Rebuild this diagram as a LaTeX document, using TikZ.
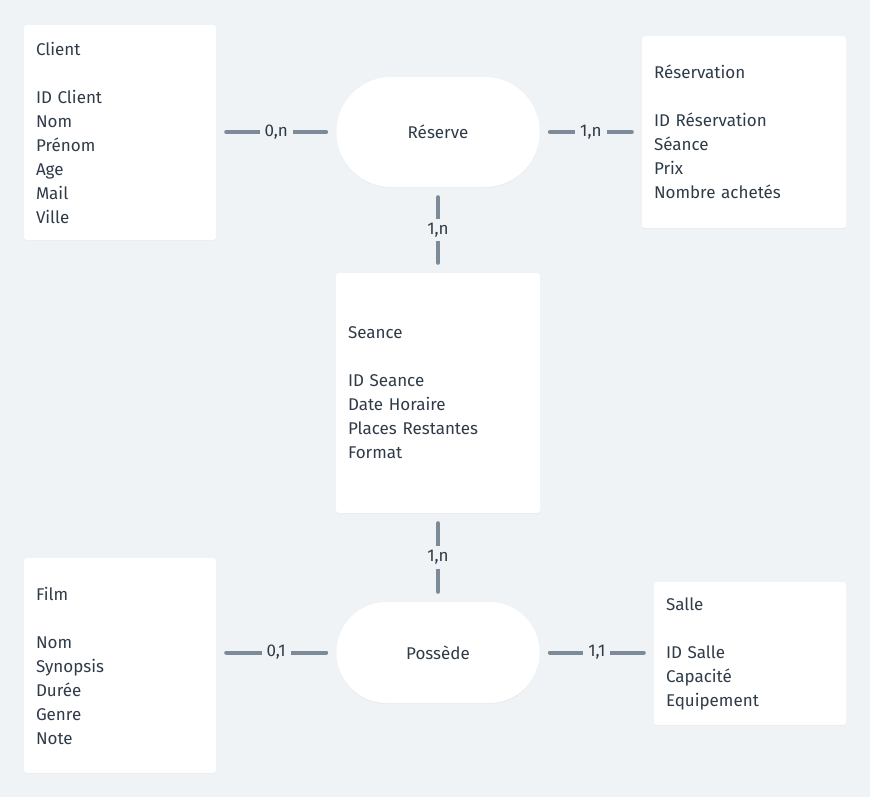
\documentclass[tikz,border=0pt]{standalone}
\usepackage{fontspec}
\setmainfont{Fira Sans}
\usepackage{tikz}
\usetikzlibrary{shapes.misc,shadows}
\definecolor{bgcol}{HTML}{F0F3F6}
\definecolor{inkcol}{HTML}{2F3B48}
\definecolor{linkcol}{HTML}{7D8A97}

\begin{document}
\begin{tikzpicture}[x=1pt,y=-1pt]
		\tikzset{entity/.style={rectangle, rounded corners=3pt, fill=white, drop shadow={shadow xshift=0pt, shadow yshift=-1pt, opacity=0.06}, align=left, inner xsep=12pt, inner ysep=0pt, text=inkcol, font=\fontsize{17}{24}\selectfont}}
		\tikzset{assoc/.style={rounded rectangle, fill=white, drop shadow={shadow xshift=0pt, shadow yshift=-1pt, opacity=0.06}, minimum width=210pt, text=inkcol, font=\fontsize{17}{24}\selectfont}}
		\tikzset{link/.style={line width=4pt, line cap=round, draw=linkcol, shorten <=10pt, shorten >=10pt}}
		\tikzset{card/.style={fill=bgcol, text=inkcol, inner xsep=5pt, inner ysep=4pt, font=\fontsize{17}{24}\selectfont}}
		\fill[bgcol] (0,0) rectangle (870,797);
		\node[entity, text width=168pt, minimum height=215pt] (client) at (120,132.5) {Client\\[24pt]ID Client\\Nom\\Prénom\\Age\\Mail\\Ville};
		\node[entity, text width=180pt, minimum height=192pt] (reservation) at (744,132) {Réservation\\[24pt]ID Réservation\\Séance\\Prix\\Nombre achetés};
		\node[entity, text width=180pt, minimum height=240pt] (seance) at (438,393) {Seance\\[24pt]ID Seance\\Date Horaire\\Places Restantes\\Format};
		\node[entity, text width=168pt, minimum height=215pt] (film) at (120,665.5) {Film\\[24pt]Nom\\Synopsis\\Durée\\Genre\\Note};
		\node[entity, text width=168pt, minimum height=143pt] (salle) at (750,653.5) {Salle\\[24pt]ID Salle\\Capacité\\Equipement};
		\node[assoc, minimum height=110pt] (reserve) at (438,132) {Réserve};
		\node[assoc, minimum height=101pt] (possede) at (438,652.5) {Possède};
		\path (client.east |- reserve.west) edge[link] node[card]{0,n} (reserve.west);
		\path (reserve.east) edge[link] node[card]{1,n} (reserve.east -| reservation.west);
		\path (reserve.south) edge[link] node[card]{1,n} (seance.north);
		\path (seance.south) edge[link] node[card]{1,n} (possede.north);
		\path (film.east |- possede.west) edge[link] node[card]{0,1} (possede.west);
		\path (possede.east) edge[link] node[card]{1,1} (possede.east -| salle.west);
	\end{tikzpicture}
\end{document}
